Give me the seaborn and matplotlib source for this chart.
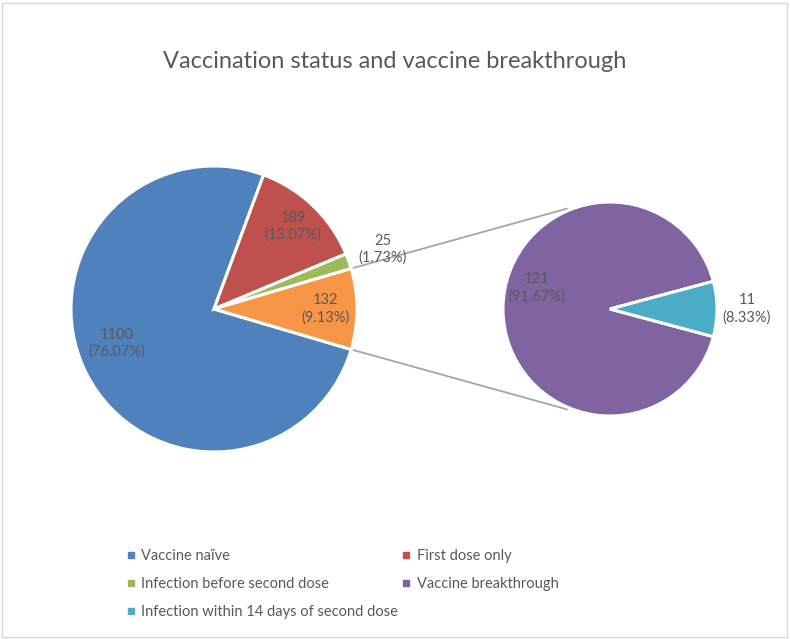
import numpy as np
import matplotlib
matplotlib.use("Agg")
import matplotlib.pyplot as plt
import seaborn as sns
from matplotlib.lines import Line2D
from matplotlib.patches import Rectangle

# data
main_labels = ["Vaccine naïve", "First dose only", "Infection before second dose", "Other"]
main_values = [1100, 189, 25, 132]
main_pcts = ["76.07%", "13.07%", "1.73%", "9.13%"]
sub_labels = ["Vaccine breakthrough", "Infection within 14 days of second dose"]
sub_values = [121, 11]
sub_pcts = ["91.67%", "8.33%"]
title = "Vaccination status and vaccine breakthrough"

sns.set_theme(style="white")
plt.rcParams["font.family"] = ["Lato", "DejaVu Sans"]

pal = {"Vaccine naïve": "#4F81BD", "First dose only": "#C0504D",
       "Infection before second dose": "#9BBB59", "Other": "#F79646",
       "Vaccine breakthrough": "#8064A2",
       "Infection within 14 days of second dose": "#4BACC6"}
txt = "#595959"

W, H = 790, 639
fig = plt.figure(figsize=(W / 100, H / 100), dpi=100)
ax = fig.add_axes([0, 0, 1, 1])

main_c, main_r = (214, H - 309), 143
sub_c, sub_r = (610, H - 309), 107

start_main = -180 * main_values[-1] / sum(main_values)
w_main, _ = ax.pie(main_values, colors=[pal[k] for k in main_labels], center=main_c, radius=main_r,
                   startangle=start_main, counterclock=False,
                   wedgeprops=dict(edgecolor="white", linewidth=2.2))
start_sub = -180 * sub_values[-1] / sum(sub_values)
w_sub, _ = ax.pie(sub_values, colors=[pal[k] for k in sub_labels], center=sub_c, radius=sub_r,
                  startangle=start_sub, counterclock=False,
                  wedgeprops=dict(edgecolor="white", linewidth=2.2))


def put_labels(wedges, values, pcts, center, r, dist, shift):
    for w, v, p, d, s in zip(wedges, values, pcts, dist, shift):
        a = np.deg2rad((w.theta1 + w.theta2) / 2 + s)
        ax.text(center[0] + d * r * np.cos(a), center[1] + d * r * np.sin(a), f"{v}\n({p})",
                ha="center", va="center", fontsize=10.5, color=txt, linespacing=1.25)


put_labels(w_main, main_values, main_pcts, main_c, main_r, [0.72, 0.8, 1.25, 0.78], [-7, 0, 0, 0])
put_labels(w_sub, sub_values, sub_pcts, sub_c, sub_r, [0.71, 1.28], [-16, 0])

# connector lines between orange slice and the secondary pie
ow = w_main[-1]
for ang_m, ang_s in [(ow.theta2, 113), (ow.theta1, 247)]:
    a, b = np.deg2rad(ang_m), np.deg2rad(ang_s)
    ax.plot([main_c[0] + main_r * np.cos(a), sub_c[0] + sub_r * 1.02 * np.cos(b)],
            [main_c[1] + main_r * np.sin(a), sub_c[1] + sub_r * 1.02 * np.sin(b)],
            color="#A6A6A6", lw=1.3, zorder=0)

ax.set_xlim(0, W)
ax.set_ylim(0, H)
ax.set_aspect("equal")
ax.axis("off")

fig.text(395 / W, 1 - 62 / H, title, ha="center", va="center", fontsize=17, color=txt)

leg_order = ["Vaccine naïve", "Infection before second dose", "Infection within 14 days of second dose",
             "First dose only", "Vaccine breakthrough"]
handles = [Line2D([], [], marker="s", ls="", markersize=5, color=pal[k]) for k in leg_order]
fig.legend(handles, leg_order, loc="upper left", bbox_to_anchor=(113 / W, 1 - 536 / H), ncol=2,
           frameon=False, fontsize=10.5, labelcolor=txt, handlelength=0.6, handletextpad=0.4,
           columnspacing=0.3, labelspacing=0.95)

fig.add_artist(Rectangle((2 / W, 2 / H), 785 / W, 634 / H, transform=fig.transFigure,
                         fill=False, edgecolor="#D9D9D9", lw=1))

fig.savefig("out.png", dpi=100)
